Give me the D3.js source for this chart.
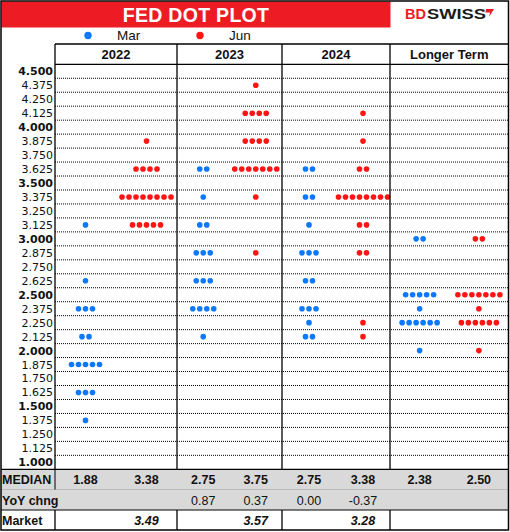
<!DOCTYPE html>
<html>
<head>
<meta charset="utf-8">
<script src="https://cdn.jsdelivr.net/npm/d3@7"></script>
<style>
  html, body { margin: 0; padding: 0; background: #fff; }
  svg { display: block; }
</style>
</head>
<body>
<div id="chart"></div>
<script>
const rates = ["4.500","4.375","4.250","4.125","4.000","3.875","3.750","3.625","3.500","3.375","3.250","3.125",
  "3.000","2.875","2.750","2.625","2.500","2.375","2.250","2.125","2.000","1.875","1.750","1.625","1.500",
  "1.375","1.250","1.125","1.000"];
const periods = ["2022", "2023", "2024", "Longer Term"];
const meetings = ["Mar", "Jun"];

// [rate, number of dots] for each period
const marDots = [
  [[3.125, 1], [2.625, 1], [2.375, 3], [2.125, 2], [1.875, 5], [1.625, 3], [1.375, 1]],
  [[3.625, 2], [3.375, 1], [3.125, 2], [2.875, 3], [2.625, 3], [2.375, 4], [2.125, 1]],
  [[3.625, 2], [3.375, 2], [3.125, 1], [2.875, 3], [2.625, 2], [2.375, 3], [2.25, 1], [2.125, 2]],
  [[3.0, 2], [2.5, 5], [2.375, 1], [2.25, 6], [2.0, 1]]
];
const junDots = [
  [[3.875, 1], [3.625, 4], [3.375, 8], [3.125, 5]],
  [[4.375, 1], [4.125, 4], [3.875, 4], [3.625, 7], [3.375, 1], [2.875, 1]],
  [[4.125, 1], [3.875, 1], [3.625, 2], [3.375, 8], [3.125, 2], [2.875, 2], [2.25, 1], [2.125, 1]],
  [[3.0, 2], [2.5, 7], [2.375, 1], [2.25, 6], [2.0, 1]]
];

const medianMar = [1.88, 2.75, 2.75, 2.38];
const medianJun = [3.38, 3.75, 3.38, 2.50];
const yoyMar = [null, 0.87, 0.00, null];
const yoyJun = [null, 0.37, -0.37, null];
const marketJun = [3.49, 3.57, 3.28, null];

const width = 510, height = 532;
const blue = "#0b78ff", red = "#ff1414", titleRed = "#ed1c24", grey = "#d9d9d9";

const svg = d3.select("#chart").append("svg")
  .attr("width", width).attr("height", height);

const colLeft = d3.scaleOrdinal().domain(periods).range([55, 177, 282, 390]);
const colRight = d3.scaleOrdinal().domain(periods).range([177, 282, 390, 508.5]);
const y = d3.scaleBand().domain(rates).range([64.3, 469.3]);
const fmt = d3.format(".3f");

function subCenter(p, m) {
  const sub = d3.scaleBand().domain(meetings).range([colLeft(p), colRight(p)]);
  return sub(m) + sub.bandwidth() / 2;
}

// title bar
svg.append("rect").attr("x", 1.5).attr("y", 1.5).attr("width", 389).attr("height", 26).attr("fill", titleRed);
svg.append("text").attr("x", 196).attr("y", 21.5).attr("text-anchor", "middle")
  .attr("font-family", "Liberation Sans, Arial, sans-serif").attr("font-weight", "bold")
  .attr("font-size", 19.5).attr("fill", "#fff").attr("letter-spacing", 0.3).text("FED DOT PLOT");

// logo
svg.append("text").attr("x", 405).attr("y", 19).attr("textLength", 21).attr("lengthAdjust", "spacingAndGlyphs")
  .attr("font-family", "Liberation Sans, Arial, sans-serif").attr("font-weight", "bold")
  .attr("font-size", 14).attr("fill", titleRed).text("BD");
svg.append("text").attr("x", 427).attr("y", 19).attr("textLength", 59).attr("lengthAdjust", "spacingAndGlyphs")
  .attr("font-family", "Liberation Sans, Arial, sans-serif").attr("font-weight", "bold")
  .attr("font-size", 14).attr("fill", "#1a1a1a").text("SWISS");
svg.append("path").attr("d", "M486,9 L494,9 L489,17 L490,12.5 L485.5,12.5 Z").attr("fill", titleRed);

// legend
const legend = svg.append("g");
[["Mar", blue, 88, 117], ["Jun", red, 200, 229]].forEach(([name, c, cx, tx]) => {
  legend.append("circle").attr("cx", cx).attr("cy", 35.5).attr("r", 3.7).attr("fill", c);
  legend.append("text").attr("x", tx).attr("y", 40).attr("font-family", "Liberation Sans, Arial, sans-serif")
    .attr("font-size", 13.5).attr("fill", "#111").text(name);
});

// bottom table backgrounds
svg.append("rect").attr("x", 1).attr("y", 469.3).attr("width", 507.5).attr("height", 40.5).attr("fill", grey);

// header labels
svg.append("g").selectAll("text").data(periods).join("text")
  .attr("x", (d) => (colLeft(d) + colRight(d)) / 2)
  .attr("y", 59)
  .attr("text-anchor", "middle")
  .attr("font-family", "Liberation Sans, Arial, sans-serif")
  .attr("font-weight", "bold").attr("font-size", 13).attr("fill", "#111")
  .text((d) => d);

// dotted gridlines
svg.append("g").selectAll("line").data(rates.slice(1)).join("line")
  .attr("x1", 55).attr("x2", 508.5)
  .attr("y1", (d) => y(d)).attr("y2", (d) => y(d))
  .attr("stroke", "#000").attr("stroke-width", 1).attr("stroke-dasharray", "1,1");

// y labels
svg.append("g").selectAll("text").data(rates).join("text")
  .attr("x", 53)
  .attr("y", (d) => y(d) + y.bandwidth() / 2)
  .attr("dy", "0.36em")
  .attr("text-anchor", "end")
  .attr("font-family", "DejaVu Sans, Verdana, sans-serif")
  .attr("font-size", 11)
  .attr("font-weight", (d) => (+d * 2) % 1 === 0 ? "bold" : "normal")
  .attr("fill", "#111")
  .text((d) => d);

// dots
function expand(list, meeting, color) {
  const out = [];
  list.forEach((rows, i) => {
    const p = periods[i];
    rows.forEach(([rate, n]) => {
      for (let k = 0; k < n; k++) {
        out.push({ p, rate: fmt(rate), k, n, meeting, color });
      }
    });
  });
  return out;
}
const allDots = expand(marDots, "Mar", blue).concat(expand(junDots, "Jun", red));
svg.append("g").selectAll("circle").data(allDots).join("circle")
  .attr("cx", (d) => subCenter(d.p, d.meeting) + (d.k - (d.n - 1) / 2) * 7)
  .attr("cy", (d) => y(d.rate) + y.bandwidth() / 2)
  .attr("r", 2.8)
  .attr("fill", (d) => d.color);

// table rows
const tableFont = "Liberation Sans, Arial, sans-serif";
const plain = (v) => v.toFixed(2);
function rowText(vals, meeting, yPos, bold, italic) {
  svg.append("g").selectAll("text").data(vals.map((v, i) => ({ v, p: periods[i] })).filter((d) => d.v !== null))
    .join("text")
    .attr("x", (d) => subCenter(d.p, meeting))
    .attr("y", yPos)
    .attr("text-anchor", "middle")
    .attr("font-family", tableFont)
    .attr("font-size", 12.5)
    .attr("font-weight", bold ? "bold" : "normal")
    .attr("font-style", italic ? "italic" : "normal")
    .attr("fill", "#111")
    .text((d) => plain(d.v));
}
rowText(medianMar, "Mar", 484, true, false);
rowText(medianJun, "Jun", 484, true, false);
rowText(yoyMar, "Mar", 504.5, false, false);
rowText(yoyJun, "Jun", 504.5, false, false);
rowText(marketJun, "Jun", 524.5, true, true);

const labels = [["MEDIAN", 484], ["YoY chng", 504.5], ["Market", 524.5]];
svg.append("g").selectAll("text").data(labels).join("text")
  .attr("x", 2).attr("y", (d) => d[1])
  .attr("font-family", tableFont).attr("font-weight", "bold").attr("font-size", 12.5).attr("fill", "#111")
  .text((d) => d[0]);

// solid lines
const lines = svg.append("g").attr("stroke", "#000").attr("fill", "none");
lines.append("line").attr("x1", 55).attr("x2", 508.5).attr("y1", 44).attr("y2", 44).attr("stroke-width", 1.3);
lines.append("line").attr("x1", 55).attr("x2", 508.5).attr("y1", 64.3).attr("y2", 64.3).attr("stroke-width", 1.3);
lines.append("line").attr("x1", 1).attr("x2", 508.5).attr("y1", 469.3).attr("y2", 469.3).attr("stroke-width", 1.3);
lines.append("line").attr("x1", 1).attr("x2", 508.5).attr("y1", 489.5).attr("y2", 489.5).attr("stroke", "#bdbdbd").attr("stroke-width", 1);
lines.append("line").attr("x1", 1).attr("x2", 508.5).attr("y1", 510).attr("y2", 510).attr("stroke-width", 1);
periods.forEach((p) => {
  lines.append("line").attr("x1", colLeft(p)).attr("x2", colLeft(p)).attr("y1", 44).attr("y2", 469.3).attr("stroke-width", 1.3);
  lines.append("line").attr("x1", colLeft(p)).attr("x2", colLeft(p)).attr("y1", 510).attr("y2", 530).attr("stroke-width", 1.3);
});
lines.append("line").attr("x1", 55).attr("x2", 55).attr("y1", 469.3).attr("y2", 489.5).attr("stroke-width", 1);
// outer frame
lines.append("rect").attr("x", 1).attr("y", 1).attr("width", 507.5).attr("height", 529).attr("stroke-width", 1.5);
</script>
</body>
</html>
